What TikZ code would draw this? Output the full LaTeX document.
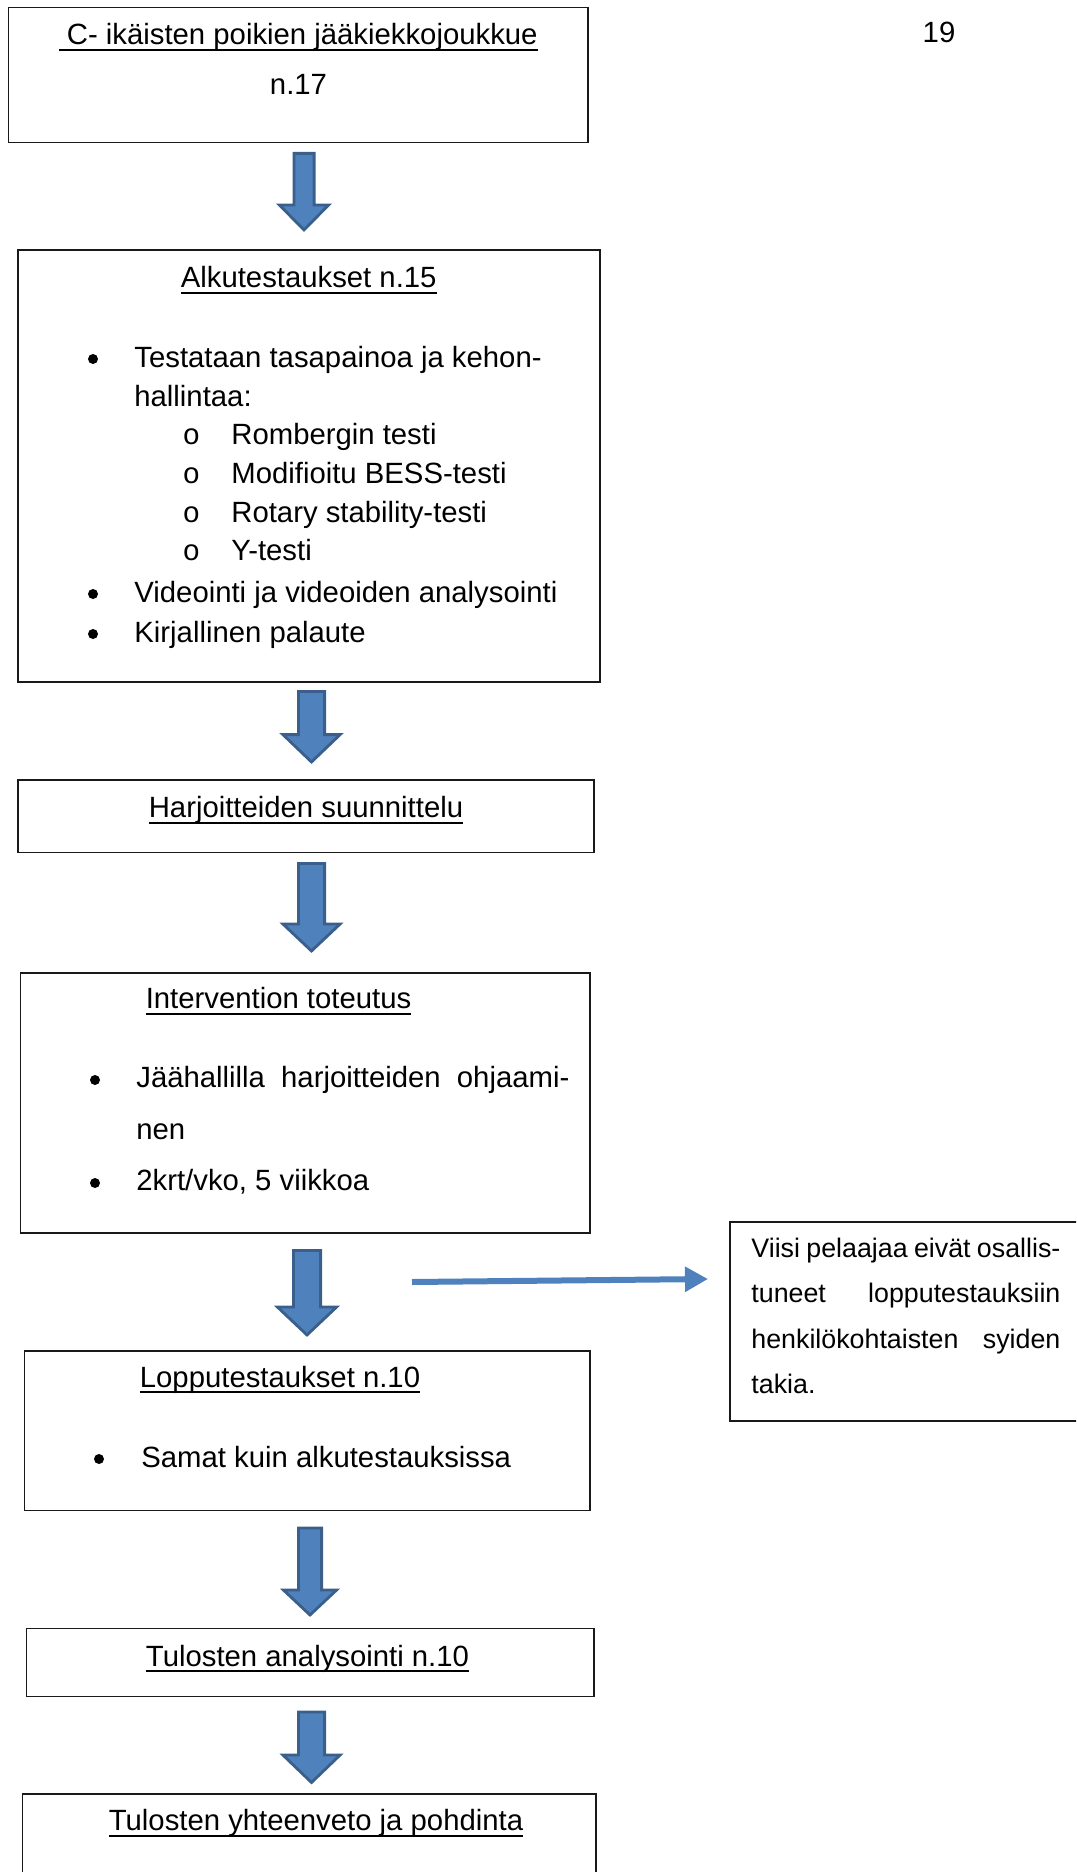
\documentclass[tikz,border=0pt]{standalone}
\usepackage{fontspec}
\setmainfont{Liberation Sans}
\newfontfamily\monofam{Liberation Mono}
\usetikzlibrary{arrows.meta,fit}
\definecolor{arrfill}{HTML}{4F81BD}
\definecolor{arrline}{HTML}{3A5F8B}
\newcommand\mainfs{\fontsize{14.65pt}{17pt}\selectfont}
\newcommand\sidefs{\fontsize{13.4pt}{16pt}\selectfont}
\newcommand\ulx[1]{\setbox0=\hbox{#1}\rlap{\rule[-3pt]{\wd0}{1pt}}\box0}
% center x, shaft half width, head half width, top, head start, tip
\newcommand\fatarr[6]{%
  \filldraw[fat] ({#1-#2},#4) -- ({#1+#2},#4) -- ({#1+#2},#5) -- ({#1+#3},#5)
    -- (#1,#6) -- ({#1-#3},#5) -- ({#1-#2},#5) -- cycle;}
\begin{document}
\begin{tikzpicture}[x=0.5pt,y=-0.5pt,
  box/.style={draw=black!90, line width=0.75pt, inner sep=0pt},
  fat/.style={fill=arrfill, draw=arrline, line width=1.4pt, line join=miter},
  ctxt/.style={inner sep=0pt, anchor=base, font=\mainfs},
  ltxt/.style={inner sep=0pt, anchor=base west, font=\mainfs},
  stxt/.style={inner sep=0pt, anchor=base west, font=\sidefs},
  dot/.style={circle, fill=black, inner sep=0pt, minimum size=5pt},
  sub/.style={inner sep=0pt, anchor=base, font=\mainfs\monofam},
  thinarrow/.style={draw=arrfill, line width=3pt, -{Triangle[length=11.5pt,width=12pt]}}
]
\useasboundingbox (0,0) rectangle (1076,1872);
\clip (0,0) rectangle (1076,1872);

% page number
\node[ctxt] (pg) at (939,43) {19};

% Box 1
\node[box, fit={(8.7,7.3) (588,142.7)}] (b1) {};
\node[ctxt] (t1) at (298.2,45) {\ulx{\ C- ikäisten poikien jääkiekkojoukkue}};
\node[ctxt] (t1b) at (298.5,95) {n.17};

\fatarr{304}{10.1}{24.6}{153.4}{205}{230}

% Box 2
\node[box, fit={(18,250) (600,682)}] (b2) {};
\node[ctxt] (t2) at (308.7,288) {\ulx{Alkutestaukset n.15}};
\node[dot] (d21) at (93,359) {};
\node[ltxt] (t21) at (134,367) {Testataan tasapainoa ja kehon-};
\node[ltxt] (t22) at (134,406) {hallintaa:};
\node[sub] (o1) at (191.5,444) {o};
\node[ltxt] (t23) at (231,444) {Rombergin testi};
\node[sub] (o2) at (191.5,483) {o};
\node[ltxt] (t24) at (231,483) {Modifioitu BESS-testi};
\node[sub] (o3) at (191.5,522) {o};
\node[ltxt] (t25) at (231,522) {Rotary stability-testi};
\node[sub] (o4) at (191.5,560) {o};
\node[ltxt] (t26) at (231,560) {Y-testi};
\node[dot] (d22) at (93,594) {};
\node[ltxt] (t27) at (134,602) {Videointi ja videoiden analysointi};
\node[dot] (d23) at (93,634) {};
\node[ltxt] (t28) at (134,642) {Kirjallinen palaute};

\fatarr{311.5}{13.1}{28.6}{691.4}{734.6}{762}

% Box 3
\node[box, fit={(18,780) (594,852.5)}] (b3) {};
\node[ctxt] (t3) at (306,817.5) {\ulx{Harjoitteiden suunnittelu}};

\fatarr{311.5}{13.1}{28.6}{863.4}{924}{951}

% Box 4
\node[box, fit={(20.6,973) (590,1233)}] (b4) {};
\node[ctxt] (t4) at (278.5,1008.6) {\ulx{Intervention toteutus}};
\node[dot] (d41) at (95,1080) {};
\node[ltxt] (t41) at (136,1087) {\hbox to 216.5pt{Jäähallilla\hfill harjoitteiden\hfill ohjaami-}};
\node[ltxt] (t42) at (136,1139) {nen};
\node[dot] (d42) at (95,1183) {};
\node[ltxt] (t43) at (136,1190.7) {2krt/vko, 5 viikkoa};

% side arrow and box
\coordinate (hs) at (412,1282);
\coordinate (he) at (708,1279);
\draw[thinarrow] (hs) -- (he);
\node[box, fit={(730,1222) (1090,1421)}] (bs) {};
\node[stxt] (s1) at (751,1257) {\hbox to 154.5pt{Viisi\hfill pelaajaa\hfill eivät\hfill osallis-}};
\node[stxt] (s2) at (751,1302) {\hbox to 154.5pt{tuneet\hfill lopputestauksiin}};
\node[stxt] (s3) at (751,1348) {\hbox to 154.5pt{henkilökohtaisten\hfill syiden}};
\node[stxt] (s4) at (751,1393) {takia.};

\fatarr{307}{13.6}{29.6}{1250.4}{1307}{1335}

% Box 5
\node[box, fit={(24.5,1351) (590,1510.7)}] (b5) {};
\node[ctxt] (t5) at (280,1387) {\ulx{Lopputestaukset n.10}};
\node[dot] (d51) at (99,1459) {};
\node[ltxt] (t51) at (141,1467) {Samat kuin alkutestauksissa};

\fatarr{310}{11.6}{26.6}{1528}{1590}{1615}

% Box 6
\node[box, fit={(26.5,1628.6) (594,1696.5)}] (b6) {};
\node[ctxt] (t6) at (307.5,1666) {\ulx{Tulosten analysointi n.10}};

\fatarr{311.5}{13.1}{28.6}{1712}{1755}{1782.5}

% Box 7
\node[box, fit={(22.4,1794) (596,1900)}] (b7) {};
\node[ctxt] (t7) at (316,1830.7) {\ulx{Tulosten yhteenveto ja pohdinta}};
\end{tikzpicture}
\end{document}
